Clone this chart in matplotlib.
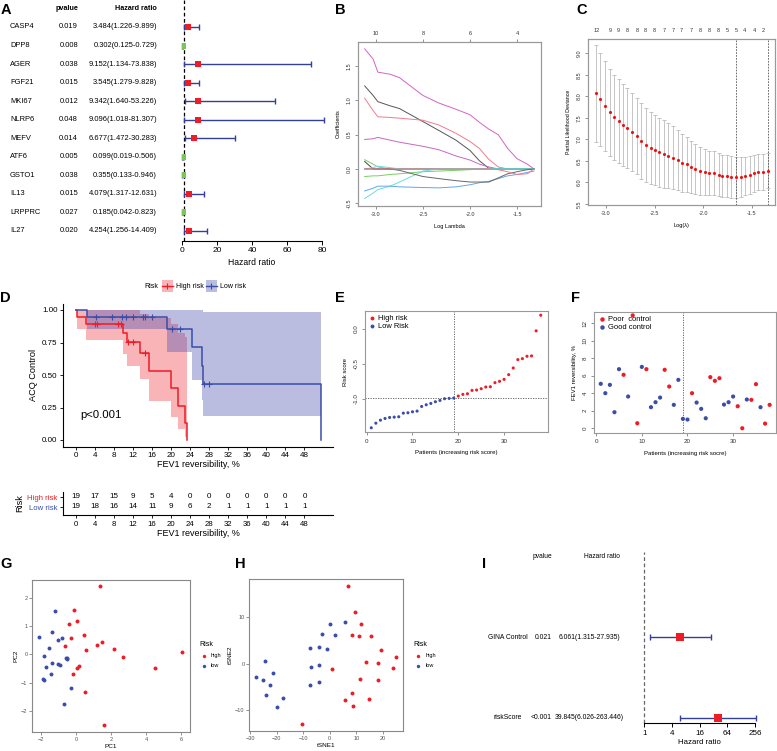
import numpy as np
import matplotlib.pyplot as plt
from matplotlib.patches import Rectangle
from matplotlib.lines import Line2D
from matplotlib.ticker import FormatStrFormatter
from matplotlib.transforms import blended_transform_factory

plt.rcParams['font.family'] = ['Liberation Sans', 'DejaVu Sans']

# ================= DATA =================
# A: univariate cox
a_genes = ["CASP4", "DPP8", "AGER", "FGF21", "MKI67", "NLRP6", "MEFV", "ATF6", "GSTO1", "IL13", "LRPPRC", "IL27"]
a_pvalue = ["0.019", "0.008", "0.038", "0.015", "0.012", "0.048", "0.014", "0.005", "0.038", "0.015", "0.027", "0.020"]
a_hr = [3.484, 0.302, 9.152, 3.545, 9.342, 9.096, 6.677, 0.099, 0.355, 4.079, 0.185, 4.254]
a_low = [1.226, 0.125, 1.134, 1.279, 1.640, 1.018, 1.472, 0.019, 0.133, 1.317, 0.042, 1.256]
a_high = [9.899, 0.729, 73.838, 9.828, 53.226, 81.307, 30.283, 0.506, 0.946, 12.631, 0.823, 14.409]

# B: lasso coefficient paths
b_loglam = [-3.12, -3.03, -2.98, -2.85, -2.75, -2.5, -2.33, -2.15, -2.0, -1.9, -1.8, -1.7, -1.6, -1.5, -1.39, -1.32]
b_mag1 = [1.75, 1.60, 1.41, 1.38, 1.33, 1.07, 0.96, 0.87, 0.79, 0.68, 0.58, 0.50, 0.30, 0.15, 0.07, 0.0]
b_blk1 = [1.21, 1.07, 0.98, 0.92, 0.88, 0.69, 0.56, 0.42, 0.27, 0.12, 0.01, 0, 0, 0, 0, 0]
b_red1 = [1.03, 0.85, 0.76, 0.75, 0.74, 0.71, 0.64, 0.52, 0.40, 0.30, 0.14, 0.03, 0, 0, 0, 0]
b_mag2 = [0.43, 0.44, 0.46, 0.42, 0.39, 0.33, 0.28, 0.19, 0.13, 0.07, 0.03, 0, 0, 0, 0, 0]
b_grn1 = [0.135, 0.07, 0.03, 0, 0, 0, 0, 0, 0, 0, 0, 0, 0, 0, 0, 0]
b_grn2 = [-0.11, -0.10, -0.10, -0.08, -0.07, -0.04, -0.03, -0.02, -0.01, 0, 0, 0, 0, 0, 0, 0]
b_blk2 = [0.11, 0.0, 0, 0, 0, 0, 0, 0, 0, 0, 0, 0, 0, 0, 0, 0]
b_cyn1 = [-0.43, -0.35, -0.30, -0.25, -0.19, -0.03, 0, 0, 0, 0, 0, 0, 0, 0, 0, 0]
b_cyn2 = [0.0, 0.02, 0.04, 0.02, 0.0, 0, 0, 0, 0, 0, 0, 0, 0, 0, 0, 0]
b_blu1 = [-0.32, -0.28, -0.25, -0.25, -0.26, -0.27, -0.275, -0.26, -0.23, -0.20, -0.18, -0.14, -0.10, -0.08, -0.05, -0.03]
b_blk3 = [0, 0, 0, 0, -0.02, -0.11, -0.14, -0.17, -0.19, -0.19, -0.19, -0.13, -0.07, -0.04, -0.01, 0]
b_red2 = [0, 0, 0, 0, 0, 0, 0, 0, 0, 0, 0, -0.01, -0.04, -0.08, -0.07, 0]
b_top_at = [-3.0, -2.5, -2.0, -1.5]
b_top_df = ["10", "8", "6", "4"]

# C: cross validation
c_loglam = [-3.10, -3.06, -3.01, -2.96, -2.92, -2.87, -2.82, -2.78, -2.73, -2.68, -2.64, -2.59, -2.54,
            -2.50, -2.45, -2.40, -2.36, -2.31, -2.26, -2.22, -2.17, -2.12, -2.08, -2.03, -1.98, -1.94,
            -1.89, -1.84, -1.80, -1.75, -1.71, -1.66, -1.61, -1.57, -1.52, -1.47, -1.43, -1.38, -1.33]
c_mean = [8.07, 7.93, 7.77, 7.63, 7.51, 7.42, 7.33, 7.26, 7.17, 7.08, 6.96, 6.87, 6.80, 6.75, 6.70,
          6.66, 6.62, 6.57, 6.52, 6.46, 6.42, 6.36, 6.32, 6.27, 6.24, 6.22, 6.21, 6.18, 6.15, 6.15,
          6.13, 6.12, 6.13, 6.15, 6.18, 6.21, 6.24, 6.25, 6.27]
c_sd = [1.12, 1.08, 1.05, 1.01, 0.99, 0.97, 0.95, 0.93, 0.91, 0.89, 0.88, 0.86, 0.84, 0.82, 0.80,
        0.78, 0.76, 0.73, 0.70, 0.67, 0.64, 0.61, 0.58, 0.56, 0.54, 0.52, 0.51, 0.50, 0.49, 0.48,
        0.48, 0.48, 0.46, 0.45, 0.44, 0.43, 0.42, 0.42, 0.41]
c_top_idx = [0, 3, 5, 7, 9, 11, 13, 15, 17, 19, 21, 23, 25, 27, 29, 31, 33, 35, 37]
c_top_lbl = ["12", "9", "9", "8", "8", "8", "8", "7", "7", "7", "7", "8", "8", "8", "5", "5", "4", "4", "2"]
c_lam_min = -1.66
c_lam_1se = -1.33

# D: KM
km_high_t = [0, 0.2, 2.2, 9.9, 10.8, 13.5, 15.4, 20.0, 21.5, 22.9, 23.3]
km_high_s = [1.0, 0.947, 0.895, 0.826, 0.757, 0.673, 0.531, 0.398, 0.265, 0.133, 0.0]
km_high_lo = [1.0, 0.852, 0.767, 0.663, 0.573, 0.469, 0.301, 0.179, 0.085, 0.022, 0.0]
km_high_up = [1.0, 1.0, 1.0, 1.0, 1.0, 0.966, 0.937, 0.890, 0.820, 0.795, 0.0]
km_high_cens = [4.0, 4.5, 8.9, 9.4, 10.9, 11.9, 14.5]
km_low_t = [0, 2.4, 19.05, 24.3, 26.4, 26.6, 51.5]
km_low_s = [1.0, 0.947, 0.855, 0.713, 0.570, 0.428, 0.0]
km_low_lo = [1.0, 0.852, 0.678, 0.465, 0.309, 0.186, 0.186]
km_low_up = [1.0, 1.0, 1.0, 1.0, 1.0, 0.985, 0.985]
km_low_cens = [4.2, 7.5, 9.7, 10.6, 11.9, 14.0, 14.5, 15.9, 20.1, 21.8, 26.9, 28.0]
tab_t = [0, 4, 8, 12, 16, 20, 24, 28, 32, 36, 40, 44, 48]
tab_high = [19, 17, 15, 9, 5, 4, 0, 0, 0, 0, 0, 0, 0]
tab_low = [19, 18, 16, 14, 11, 9, 6, 2, 1, 1, 1, 1, 1]

# E: risk score
e_score = [-1.414, -1.348, -1.305, -1.281, -1.267, -1.262, -1.257, -1.205, -1.200, -1.186, -1.176,
           -1.110, -1.086, -1.067, -1.043, -1.024, -1.000, -0.995, -0.990, -0.962, -0.938, -0.929,
           -0.881, -0.876, -0.857, -0.833, -0.829, -0.771, -0.752, -0.724, -0.657, -0.562, -0.443,
           -0.429, -0.395, -0.390, -0.033, 0.190]
e_n_low = 19

# F: FEV1 reversibility
f_fev1 = [5.07, 4.00, 4.95, 1.83, 6.74, 6.10, 3.62, 12.88, 0.57, 7.00, 6.74, 2.40, 2.97, 3.50, 6.67,
          4.76, 2.67, 5.52, 1.07, 0.99, 4.00, 2.93, 2.21, 1.14, 5.83, 5.41, 5.71, 2.70, 2.97, 3.62,
          2.51, 0.00, 3.28, 3.24, 5.03, 2.40, 0.53, 2.67]
f_poor = [0, 0, 0, 0, 0, 1, 0, 1, 1, 0, 1, 0, 0, 0, 1, 1, 0, 0, 0, 0, 1, 0, 0, 0, 1, 1, 1, 0, 0, 0,
          1, 1, 0, 1, 1, 0, 1, 1]

# G: PCA
g_high_pc1 = [1.37, -0.11, 0.04, -0.42, -0.29, 0.46, -0.63, 1.50, 1.22, 0.59, 2.17, 2.67, 6.04, 4.53, 0.17, 0.06, -0.17, 0.53, 1.58]
g_high_pc2 = [2.44, 1.58, 1.19, 1.10, 0.60, 0.68, 0.30, 0.45, 0.35, 0.17, 0.20, -0.10, 0.08, -0.48, -0.42, -0.50, -0.71, -1.33, -2.50]
g_low_pc1 = [-1.18, -1.39, -2.10, -0.82, -1.01, -1.56, -1.81, -0.59, -0.53, -0.50, -1.01, -0.91, -1.39, -1.70, -1.43, -1.87, -1.85, -0.29, -0.70]
g_low_pc2 = [1.56, 0.81, 0.63, 0.58, 0.51, 0.24, -0.06, -0.12, -0.15, -0.13, -0.33, -0.36, -0.31, -0.44, -0.68, -0.87, -0.92, -1.20, -1.76]

# H: tSNE
h_high_x = [6.9, 9.4, 11.8, 8.4, 11.1, 15.7, 0.75, 13.6, 18.2, 11.3, 18.2, 8.3, 5.7, 14.7, 8.6, -10.3, 19.4, 25.0, 23.8]
h_high_y = [16.8, 11.2, 8.6, 6.1, 5.9, 6.0, -1.1, 0.3, 0.1, -3.2, -3.4, -6.3, -7.8, -7.6, -9.1, -13.0, 3.0, 1.4, -0.9]
h_low_x = [-24.5, -27.9, -25.2, -21.4, -22.4, -23.9, -17.6, -19.9, -7.3, -4.2, -0.9, -2.8, 1.8, 0.0, 5.7, -7.1, -4.0, -7.3, -4.2]
h_low_y = [0.65, -2.9, -3.45, -1.9, -4.5, -6.7, -7.3, -9.4, 3.3, 3.6, 3.2, 6.5, 6.2, 8.6, 9.1, -0.7, -0.2, -4.5, -4.0]

# I: multivariate cox
i_vars = ["GINA Control", "riskScore"]
i_pvalue = ["0.021", "<0.001"]
i_hr = [6.061, 39.845]
i_low = [1.315, 6.026]
i_high = [27.935, 263.446]

# ================= STYLE =================
RED = "#EE1C25"
BLUE = "#3A4DA8"
NAVY = "#33409A"
GREEN = "#7DC45A"

W, H = 777, 751
fig = plt.figure(figsize=(W / 100, H / 100), dpi=100)

ov = fig.add_axes([0, 0, 1, 1])
ov.set_xlim(0, W)
ov.set_ylim(H, 0)
ov.axis("off")
ov.set_zorder(10)


def px_axes(x0, y0, x1, y1):
    return fig.add_axes([x0 / W, 1 - y1 / H, (x1 - x0) / W, (y1 - y0) / H])


def r_style(ax, fs=4.2):
    for s in ax.spines.values():
        s.set_color("#999999")
        s.set_linewidth(0.8)
    ax.tick_params(direction="out", length=2.5, width=0.5, color="#666666",
                   labelsize=fs, pad=2, labelcolor="#333333")
    for lab in ax.get_yticklabels():
        lab.set_rotation(90)
        lab.set_va("center")


def gg_style(ax):
    for s in ax.spines.values():
        s.set_color("#888888")
        s.set_linewidth(0.8)
    ax.tick_params(direction="out", length=2, width=0.5, color="#666666",
                   labelsize=4, pad=1.5, labelcolor="#555555")


for lbl, x, y in [("A", 1, 13.5), ("B", 335, 13.5), ("C", 576, 13.5),
                  ("D", 0, 302), ("E", 335, 302), ("F", 571, 302),
                  ("G", 0, 568), ("H", 235, 568), ("I", 482, 568)]:
    ov.text(x, y, lbl, fontsize=10.5, fontweight="bold", va="baseline", ha="left")

thin_box = [(-0.3, -0.5), (0.3, -0.5), (0.3, 0.5), (-0.3, 0.5), (-0.3, -0.5)]

# ================= A =================
axA = px_axes(182, 0, 322, 241)
rowsA = np.arange(len(a_genes))
axA.set_xlim(0, 80)
axA.set_ylim(len(a_genes) - 0.46, -1.455)
axA.axvline(1, color="black", lw=0.9, ls=(0, (3, 2)), zorder=1)
axA.hlines(rowsA, a_low, a_high, color=NAVY, lw=1.0, clip_on=False, zorder=2)
axA.plot(a_low, rowsA, "|", color=NAVY, ms=4.3, mew=1.0, clip_on=False)
axA.plot(a_high, rowsA, "|", color=NAVY, ms=4.3, mew=1.0, clip_on=False)
hrA = np.array(a_hr)
up = hrA > 1
axA.plot(hrA[up], rowsA[up], "s", color=RED, ms=4.6, mew=0, zorder=3, clip_on=False)
axA.plot(hrA[~up] + 1, rowsA[~up], marker=thin_box, ls="none", color=GREEN, ms=4.6, mew=0,
         zorder=3, clip_on=False)
for s in ["top", "left", "right"]:
    axA.spines[s].set_visible(False)
axA.spines["bottom"].set_bounds(0, 80)
axA.set_xticks([0, 20, 40, 60, 80])
axA.set_yticks([])
axA.tick_params(axis="x", length=3, width=0.7, labelsize=6, pad=1.5)
axA.set_xlabel("Hazard ratio", fontsize=6.2, labelpad=3)

tA = blended_transform_factory(ov.transData, axA.transData)
axA.text(78, -1.02, "pvalue", transform=tA, ha="right", va="center", fontsize=5.2, fontweight="bold")
axA.text(157, -1.02, "Hazard ratio", transform=tA, ha="right", va="center", fontsize=5.2, fontweight="bold")
for i in rowsA:
    axA.text(10, i, a_genes[i], transform=tA, ha="left", va="center", fontsize=5.4)
    axA.text(78, i, a_pvalue[i], transform=tA, ha="right", va="center", fontsize=5.4)
    axA.text(157, i, "%.3f(%.3f-%.3f)" % (a_hr[i], a_low[i], a_high[i]), transform=tA,
             ha="right", va="center", fontsize=5.4)

# ================= B =================
axB = px_axes(358, 42, 541, 206)
b_paths = [b_mag1, b_blk1, b_red1, b_mag2, b_grn1, b_grn2, b_blk2, b_cyn1, b_cyn2, b_blu1, b_blk3, b_red2]
b_cols = ["#D462C4", "#555555", "#F07C8C", "#C867BE", "#75D063", "#75D063", "#444444",
          "#6ADCE0", "#6ADCE0", "#5FA8E8", "#666666", "#F07C8C"]
for path, col in zip(b_paths, b_cols):
    axB.plot(b_loglam, path, color=col, lw=0.7)
axB.set_xlim(-3.191, -1.245)
axB.set_ylim(-0.539, 1.849)
axB.set_xticks([-3.0, -2.5, -2.0, -1.5])
axB.set_yticks([-0.5, 0.0, 0.5, 1.0, 1.5])
axB.xaxis.set_major_formatter(FormatStrFormatter("%.1f"))
axB.yaxis.set_major_formatter(FormatStrFormatter("%.1f"))
r_style(axB, fs=4.0)
axB.set_xlabel("Log Lambda", fontsize=4.0, labelpad=5)
axB.set_ylabel("Coefficients", fontsize=4.0, labelpad=4)
topB = axB.twiny()
topB.set_xlim(axB.get_xlim())
topB.set_xticks(b_top_at)
topB.set_xticklabels(b_top_df)
r_style(topB, fs=4.0)

# ================= C =================
axC = px_axes(588, 39, 775, 205)
axC.errorbar(c_loglam, c_mean, yerr=c_sd, fmt="none", ecolor="#BBBBBB", elinewidth=0.6,
             capsize=1.2, capthick=0.6)
axC.scatter(c_loglam, c_mean, s=5, color="#EE1111", lw=0, zorder=3)
axC.axvline(c_lam_min, color="#555555", lw=0.6, ls=(0, (2, 1.5)))
axC.axvline(c_lam_1se, color="#555555", lw=0.6, ls=(0, (2, 1.5)))
axC.set_xlim(-3.186, -1.258)
axC.set_ylim(5.477, 9.33)
axC.set_xticks([-3.0, -2.5, -2.0, -1.5])
axC.set_yticks([5.5, 6.0, 6.5, 7.0, 7.5, 8.0, 8.5, 9.0])
axC.xaxis.set_major_formatter(FormatStrFormatter("%.1f"))
axC.yaxis.set_major_formatter(FormatStrFormatter("%.1f"))
r_style(axC, fs=4.0)
axC.set_xlabel("Log(\u03bb)", fontsize=4.0, labelpad=5)
axC.set_ylabel("Partial Likelihood Deviance", fontsize=3.8, labelpad=4)
topC = axC.twiny()
topC.set_xlim(axC.get_xlim())
topC.set_xticks(np.array(c_loglam)[c_top_idx])
topC.set_xticklabels(c_top_lbl)
r_style(topC, fs=4.0)
topC.tick_params(length=0, pad=4)

# ================= D =================
axD = px_axes(63, 303.5, 333, 446.5)
axD.set_xlim(-2.73, 54.0)
axD.set_ylim(-0.05, 1.05)
axD.fill_between(km_high_t, km_high_lo, km_high_up, step="post", color=RED, alpha=0.33, lw=0)
axD.fill_between(km_low_t, km_low_lo, km_low_up, step="post", color="#4A4FB0", alpha=0.38, lw=0)
axD.step(km_high_t, km_high_s, where="post", color=RED, lw=1.1)
axD.step(km_low_t, km_low_s, where="post", color=BLUE, lw=1.1)
hs = np.array(km_high_s)[np.searchsorted(km_high_t, km_high_cens, side="right") - 1]
ls_ = np.array(km_low_s)[np.searchsorted(km_low_t, km_low_cens, side="right") - 1]
axD.plot(km_high_cens, hs, "+", color=RED, ms=4.5, mew=0.8)
axD.plot(km_low_cens, ls_, "+", color=BLUE, ms=4.5, mew=0.8)
for s in ["top", "right"]:
    axD.spines[s].set_visible(False)
axD.set_xticks(tab_t)
axD.set_yticks([0, 0.25, 0.5, 0.75, 1.0])
axD.yaxis.set_major_formatter(FormatStrFormatter("%.2f"))
axD.tick_params(length=2.5, width=0.6, labelsize=5.8, pad=1.5)
axD.set_xlabel("FEV1 reversibility, %", fontsize=6.5, labelpad=1)
axD.set_ylabel("ACQ Control", fontsize=6.6, labelpad=3)
ov.text(80, 415, "p<0.001", ha="left", va="center", fontsize=8.2)

# KM legend
ov.text(144, 286, "Risk", ha="left", va="center", fontsize=5)
for x0, col, alp, lab in [(162, RED, 0.33, "High risk"), (206, "#4A4FB0", 0.38, "Low risk")]:
    ov.add_patch(Rectangle((x0, 280), 10.5, 12, color=col, alpha=alp, lw=0))
    lc = RED if lab == "High risk" else BLUE
    ov.plot([x0, x0 + 10.5], [286, 286], color=lc, lw=1.0)
    ov.plot([x0 + 5.25], [286], "+", color=lc, ms=4, mew=0.8)
    ov.text(x0 + 13.5, 286, lab, ha="left", va="center", fontsize=5)

# risk table
axT = px_axes(63, 492, 333, 515)
axT.set_xlim(axD.get_xlim())
axT.set_ylim(-0.3, 2.0)
for t, nh, nl in zip(tab_t, tab_high, tab_low):
    axT.text(t, 1.5, str(nh), ha="center", va="center", fontsize=5.8)
    axT.text(t, 0.5, str(nl), ha="center", va="center", fontsize=5.8)
for s in ["top", "right"]:
    axT.spines[s].set_visible(False)
axT.set_xticks(tab_t)
axT.set_yticks([1.5, 0.5])
axT.set_yticklabels(["High risk", "Low risk"])
axT.get_yticklabels()[0].set_color(RED)
axT.get_yticklabels()[1].set_color(BLUE)
axT.tick_params(length=2.5, width=0.6, labelsize=5.6, pad=1.5)
axT.set_xlabel("FEV1 reversibility, %", fontsize=6.5, labelpad=1)
axT.set_ylabel("Risk", fontsize=6.6, labelpad=2)

# ================= E =================
axE = px_axes(364.5, 310.7, 547.5, 432.3)
e_x = np.arange(1, len(e_score) + 1)
e_cols = [BLUE] * e_n_low + [RED] * (len(e_score) - e_n_low)
axE.scatter(e_x, e_score, c=e_cols, s=5, lw=0, zorder=3)
axE.axvline(e_n_low, color="#555555", lw=0.6, ls=(0, (1.5, 1.5)))
axE.axhline(e_score[e_n_low - 1], color="#555555", lw=0.6, ls=(0, (1.5, 1.5)))
axE.set_xlim(-0.48, 39.48)
axE.set_ylim(-1.478, 0.254)
axE.set_xticks([0, 10, 20, 30])
axE.set_yticks([-1.0, -0.5, 0.0])
axE.yaxis.set_major_formatter(FormatStrFormatter("%.1f"))
r_style(axE, fs=4.5)
axE.set_xlabel("Patients (increasing risk score)", fontsize=4.3, labelpad=5)
axE.set_ylabel("Risk score", fontsize=4.3, labelpad=4)
hE = [Line2D([], [], marker="o", ls="none", color=RED, ms=2.8, mew=0),
      Line2D([], [], marker="o", ls="none", color=BLUE, ms=2.8, mew=0)]
axE.legend(hE, ["High risk", "Low Risk"], loc="upper left", bbox_to_anchor=(0, 1), borderaxespad=0,
           borderpad=0.6, frameon=False, fontsize=5.4, handlelength=0.8, handletextpad=0.4,
           labelspacing=0.1)

# ================= F =================
axF = px_axes(594, 311.7, 776.4, 432.7)
f_x = np.arange(1, len(f_fev1) + 1)
f_cols = [RED if p else BLUE for p in f_poor]
axF.scatter(f_x, f_fev1, c=f_cols, s=9, lw=0, zorder=3)
axF.axvline(e_n_low, color="#555555", lw=0.6, ls=(0, (1.5, 1.5)))
axF.set_xlim(-0.48, 39.48)
axF.set_ylim(-0.51, 13.3)
axF.set_xticks([0, 10, 20, 30])
axF.set_yticks([0, 2, 4, 6, 8, 10, 12])
r_style(axF, fs=4.5)
axF.set_xlabel("Patients (increasing risk socre)", fontsize=4.3, labelpad=5)
axF.set_ylabel("FEV1 reversibility, %", fontsize=4.3, labelpad=4)
hF = [Line2D([], [], marker="o", ls="none", color=RED, ms=3.2, mew=0),
      Line2D([], [], marker="o", ls="none", color=BLUE, ms=3.2, mew=0)]
axF.legend(hF, ["Poor  control", "Good control"], loc="upper left", bbox_to_anchor=(0, 1),
           borderaxespad=0, borderpad=0.6, frameon=False, fontsize=5.4, handlelength=0.8,
           handletextpad=0.4, labelspacing=0.1)

# ================= G =================
axG = px_axes(32.3, 580, 190, 731.7)
axG.scatter(g_high_pc1, g_high_pc2, s=8, color=RED, lw=0)
axG.scatter(g_low_pc1, g_low_pc2, s=8, color=BLUE, lw=0)
axG.set_xlim(-2.50, 6.51)
axG.set_ylim(-2.75, 2.65)
axG.set_xticks([-2, 0, 2, 4, 6])
axG.set_yticks([-2, -1, 0, 1, 2])
gg_style(axG)
axG.set_xlabel("PC1", fontsize=4.6, labelpad=1.5)
axG.set_ylabel("PC2", fontsize=4.6, labelpad=1.5)

# ================= H =================
axH = px_axes(249.3, 579.3, 403.3, 731)
axH.scatter(h_high_x, h_high_y, s=8, color=RED, lw=0)
axH.scatter(h_low_x, h_low_y, s=8, color=BLUE, lw=0)
axH.set_xlim(-30.3, 27.7)
axH.set_ylim(-14.5, 18.2)
axH.set_xticks([-30, -20, -10, 0, 10, 20])
axH.set_yticks([-10, 0, 10])
gg_style(axH)
axH.set_xlabel("tSNE1", fontsize=4.6, labelpad=1.5)
axH.set_ylabel("tSNE2", fontsize=4.6, labelpad=1.5)

for x0 in [199, 413.3]:
    ov.text(x0, 644, "Risk", ha="left", va="center", fontsize=5)
    ov.scatter([x0 + 5], [655.5], s=6, color=RED, lw=0)
    ov.scatter([x0 + 5], [665.8], s=6, color=BLUE, lw=0)
    ov.text(x0 + 12, 655.5, "high", ha="left", va="center", fontsize=4)
    ov.text(x0 + 12, 665.8, "low", ha="left", va="center", fontsize=4)

# ================= I =================
axI = px_axes(644.3, 551.7, 755, 723.3)
axI.set_xscale("log", base=2)
axI.set_xlim(1, 256)
axI.set_ylim(1.07, -1.065)
rowsI = np.arange(len(i_vars))
axI.axvline(1, color="#666666", lw=0.9, ls=(0, (3, 2)), clip_on=False)
axI.hlines(rowsI, i_low, i_high, color=NAVY, lw=1.0, clip_on=False)
axI.plot(i_low, rowsI, "|", color=NAVY, ms=4.3, mew=1.0, clip_on=False)
axI.plot(i_high, rowsI, "|", color=NAVY, ms=4.3, mew=1.0, clip_on=False)
axI.plot(i_hr, rowsI, "s", color=RED, ms=5.4, mew=0, zorder=3, clip_on=False)
for s in ["top", "left", "right"]:
    axI.spines[s].set_visible(False)
axI.set_xticks([1, 4, 16, 64, 256])
axI.set_xticklabels(["1", "4", "16", "64", "256"])
axI.minorticks_off()
axI.set_yticks([])
axI.tick_params(axis="x", length=3, width=0.7, labelsize=5.8, pad=1.5)
axI.set_xlabel("Hazard ratio", fontsize=5.6, labelpad=2)

tI = blended_transform_factory(ov.transData, axI.transData)
axI.text(552, -1.01, "pvalue", transform=tI, ha="right", va="center", fontsize=4.8)
axI.text(601.5, -1.01, "Hazard ratio", transform=tI, ha="center", va="center", fontsize=4.8)
for i in rowsI:
    axI.text(507.5, i, i_vars[i], transform=tI, ha="center", va="center", fontsize=4.9)
    axI.text(552, i, i_pvalue[i], transform=tI, ha="right", va="center", fontsize=4.9)
    axI.text(589, i, "%.3f(%.3f-%.3f)" % (i_hr[i], i_low[i], i_high[i]), transform=tI,
             ha="center", va="center", fontsize=4.9)

fig.savefig("out.png", dpi=100)
